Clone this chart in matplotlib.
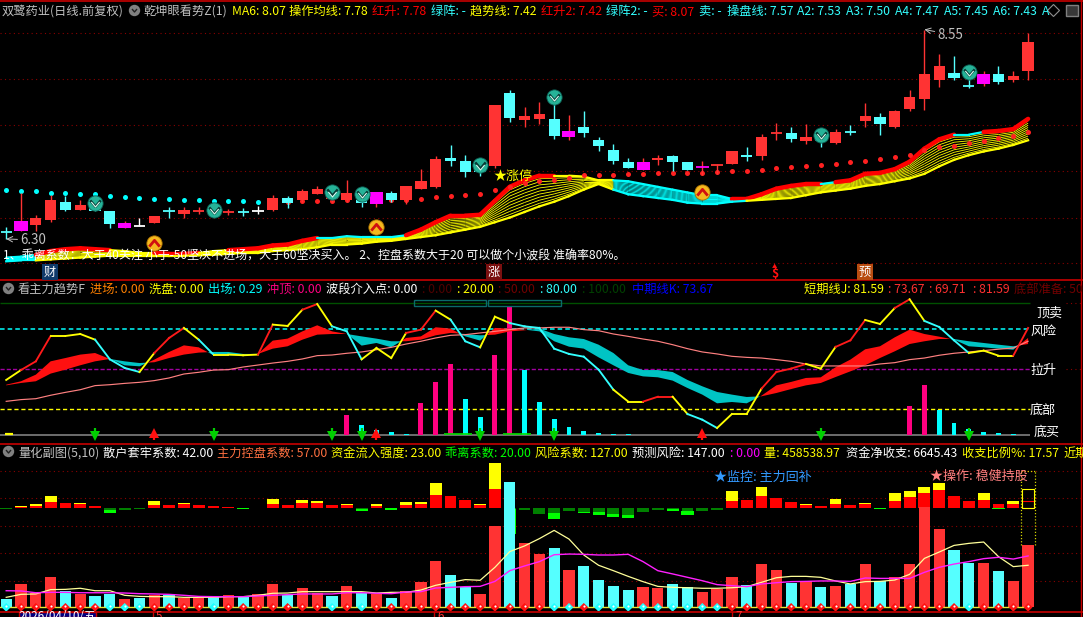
import numpy as np
import matplotlib
matplotlib.use('Agg')
import matplotlib.pyplot as plt
from matplotlib.collections import LineCollection
from matplotlib.patches import Rectangle
from matplotlib.path import Path

plt.rcParams['font.family'] = ['Noto Sans CJK SC', 'DejaVu Sans']

W, H = 1083, 617

# candles
c_open = [6.37,6.39,6.45,6.50,6.70,6.61,6.64,6.60,6.42,6.44,6.47,6.60,6.57,6.60,6.61,6.59,6.59,6.60,6.61,6.74,
          6.72,6.78,6.73,6.72,6.72,6.68,6.79,6.72,6.84,6.86,7.17,7.14,7.11,7.08,7.87,7.58,7.59,7.59,7.40,7.50,
          7.36,7.26,7.13,7.04,7.15,7.19,7.13,7.07,7.09,7.11,7.20,7.19,7.44,7.44,7.35,7.42,7.33,7.45,7.57,7.61,
          7.50,7.70,7.80,8.01,8.08,7.94,7.96,8.07,8.01,8.10]
c_close = [6.37,6.49,6.52,6.72,6.61,6.66,6.60,6.46,6.47,6.44,6.55,6.60,6.61,6.60,6.61,6.59,6.59,6.60,6.74,6.69,
           6.82,6.84,6.76,6.79,6.69,6.80,6.72,6.87,6.92,7.16,7.14,7.02,7.02,7.74,7.60,7.62,7.64,7.41,7.46,7.44,
           7.30,7.14,7.06,7.13,7.17,7.13,7.04,7.07,7.09,7.25,7.18,7.40,7.44,7.37,7.40,7.35,7.45,7.45,7.62,7.53,
           7.67,7.82,8.07,8.16,8.03,7.94,8.07,7.99,8.05,8.42]
c_high = [6.43,6.79,6.56,6.77,6.76,6.72,6.76,6.60,6.49,6.52,6.55,6.64,6.64,6.64,6.66,6.62,6.63,6.65,6.77,6.76,
          6.84,6.87,6.83,6.93,6.81,6.80,6.82,6.87,7.05,7.19,7.31,7.20,7.15,7.74,7.90,7.72,7.77,7.76,7.63,7.67,
          7.40,7.32,7.17,7.17,7.20,7.20,7.13,7.14,7.11,7.25,7.29,7.43,7.55,7.50,7.54,7.42,7.48,7.52,7.76,7.65,
          7.69,7.90,8.55,8.29,8.27,8.13,8.10,8.16,8.10,8.51]
c_low = [6.30,6.39,6.39,6.48,6.60,6.61,6.60,6.42,6.42,6.44,6.47,6.52,6.53,6.57,6.58,6.56,6.55,6.57,6.60,6.63,
         6.70,6.78,6.70,6.70,6.64,6.64,6.70,6.68,6.84,6.85,7.08,6.97,6.98,7.06,7.56,7.50,7.54,7.37,7.36,7.40,
         7.25,7.11,7.06,7.04,7.09,7.03,7.04,6.99,7.00,7.11,7.14,7.15,7.36,7.34,7.32,7.29,7.32,7.42,7.50,7.42,
         7.49,7.67,7.69,7.93,8.01,7.92,7.94,7.96,7.99,8.01]
c_kind = ['c','m','r','r','c','r','c','c','m','w','r','c','r','r','c','r','c','w','r','c',
          'r','r','r','r','c','m','c','r','r','r','c','c','c','r','c','r','r','c','m','c',
          'c','c','c','m','r','c','c','m','r','r','c','r','r','c','r','c','r','c','r','c',
          'r','r','r','r','c','c','m','c','r','r']

# ma ribbon edges
ma_top = [6.10,6.11,6.13,6.17,6.19,6.20,6.19,6.18,6.17,6.15,6.15,6.14,6.14,6.15,6.17,6.18,6.19,6.20,6.23,6.24,
          6.28,6.31,6.31,6.33,6.32,6.32,6.32,6.34,6.40,6.48,6.55,6.55,6.56,6.71,6.86,6.93,6.98,6.98,6.98,6.97,
          6.93,6.93,6.92,6.89,6.86,6.83,6.80,6.77,6.77,6.73,6.73,6.78,6.84,6.87,6.89,6.89,6.91,6.93,7.00,7.01,
          7.05,7.13,7.27,7.37,7.42,7.42,7.45,7.46,7.48,7.59]
ma_bot = [6.06,6.07,6.07,6.08,6.09,6.10,6.11,6.12,6.12,6.12,6.12,6.12,6.12,6.125,6.13,6.14,6.15,6.15,6.17,6.18,
          6.19,6.21,6.24,6.24,6.25,6.27,6.28,6.30,6.32,6.34,6.37,6.40,6.43,6.48,6.53,6.59,6.65,6.70,6.76,6.83,
          6.89,6.83,6.78,6.76,6.74,6.72,6.69,6.68,6.68,6.70,6.71,6.72,6.73,6.74,6.77,6.80,6.82,6.84,6.87,6.89,
          6.92,6.95,7.00,7.08,7.15,7.20,7.24,7.27,7.31,7.36]
top_col = 'cc' + 'rrrrr' + 'yyy' + 'rrr' + 'yy' + 'rrrrrr' + 'cccccc' + 'r' * 10 + 'yyyy' + 'c' * 8 + 'r' * 6 + 'c' + 'r' * 8 + 'cc' + 'rrr'
band_col = 'cc' + 'y' * 39 + 'c' * 9 + 'y' * 19

# stop dots, cyan first and then red
dots_up = [6.83,6.82,6.81,6.79,6.79,6.78,6.78,6.76,6.75,6.74,6.73,6.73,6.72,6.72,6.71,6.71,6.71,6.70]
dots_dn = [6.70,6.70,6.71,6.71,6.71,6.72,6.72,6.72,6.72,6.72,6.73,6.75,6.76,6.77,6.78,6.83,6.86,6.90,6.92,6.93,
           6.96,6.99,6.99,6.99,7.00,7.00,7.01,7.01,7.01,7.01,7.02,7.03,7.03,7.04,7.06,7.07,7.08,7.09,7.11,7.13,
           7.14,7.16,7.18,7.20,7.26,7.29,7.30,7.33,7.35,7.38,7.41,7.45]

sell_idx = [6, 14, 22, 24, 32, 37, 55, 65]
sell_px = [6.69, 6.61, 6.80, 6.78, 7.09, 7.83, 7.42, 8.09]
buy_idx = [10, 25, 47]
buy_px = [6.26, 6.43, 6.80]

grid_main = [8.51, 8.015, 7.52, 7.03, 6.53, 6.04]

# trend panel
line_j = [41.7,49.2,55.8,75.0,75.0,76.5,72.2,57.3,50.8,47.7,62.1,73.5,81.1,72.2,60.9,60.9,60.4,60.9,83.6,82.6,
          94.9,99.2,82.3,78.5,57.3,65.9,58.3,77.3,79.8,94.2,87.4,71.0,66.4,89.6,84.8,82.3,81.1,65.4,61.4,59.3,
          49.5,34.3,25.3,25.3,29.0,29.0,15.9,11.6,5.3,15.9,15.9,35.1,47.7,50.3,53.8,50.3,66.7,71.7,87.1,84.1,
          96.2,102.8,86.4,81.8,71.7,62.1,63.9,60.1,60.1,81.1]
j_col = 'yrryyyccc' + 'yrrycyyyr' + 'yyryccyyy' + 'rryccyycc' + 'cccccyyrr' + 'yccyyyrrr' + 'yyrryyryc' + 'ccyyyr'
line_k = [38.1,40.7,45.7,55.8,58.3,60.9,62.1,57.6,52.8,52.0,57.1,62.9,67.9,66.4,60.4,60.4,60.4,61.4,71.5,73.0,
          78.5,83.1,78.5,76.5,67.7,69.7,66.4,73.5,74.7,81.6,80.6,74.7,71.5,81.1,80.6,79.8,78.5,71.0,66.9,65.4,
          58.8,52.8,47.0,44.4,43.7,41.2,35.6,30.6,24.0,25.0,24.0,29.8,37.6,40.2,43.2,43.7,51.3,57.1,64.9,67.2,
          74.0,79.8,76.5,74.5,72.2,67.2,66.4,65.4,64.6,73.5]
line_d = [37.6,39.4,40.7,46.5,49.5,52.8,55.8,57.6,55.8,54.5,55.1,58.3,60.9,62.4,62.9,62.9,61.4,61.4,65.4,67.2,
          72.2,76.0,76.5,76.5,74.7,73.0,71.0,71.0,72.2,75.5,77.3,76.5,75.5,76.0,78.5,79.3,80.6,76.5,74.0,72.7,
          68.4,62.1,52.8,49.2,49.2,47.7,41.7,36.9,32.6,30.6,28.8,29.3,31.8,34.8,37.6,39.4,43.9,48.2,52.8,58.3,
          63.4,68.9,71.0,72.7,72.7,71.0,69.7,68.4,67.2,68.9]
line_long = [25.5,26.8,27.5,30.1,32.3,34.3,37.4,38.1,39.1,39.9,41.2,43.2,46.2,47.5,49.2,49.5,51.5,53.0,54.5,55.8,
             57.6,60.1,60.6,61.9,62.9,64.6,66.4,68.9,71.0,73.5,75.5,76.0,77.3,78.5,79.8,81.1,81.1,81.6,81.6,79.8,
             79.0,76.5,74.7,72.7,71.0,68.4,65.4,62.9,61.4,59.6,58.8,58.3,57.1,55.8,53.8,52.3,52.3,52.3,52.3,53.8,
             54.8,57.1,58.3,60.4,61.9,62.9,63.9,65.0,65.9,71.0]
sig_idx = [23,24,25,26,27,28,29,30,31,32,33,34,35,36,37,38,39,40,41,42,61,62,63,64,65,66,67,68,69]
sig_val = [15.2,7.6,3.8,2.3,0.8,24.2,40.2,53.8,27.3,13.6,60.6,97.7,49.2,25.0,12.1,6.1,3.0,1.5,0.8,0.8,22.0,37.9,18.9,9.1,4.5,2.3,1.5,0.8,0.3]
sig_col = ['p','c','c','c','c','p','p','p','c','c','p','p','c','c','c','c','c','c','c','c','p','p','c','c','c','c','c','c','c']
red_arrow_idx = [10, 25, 47]
green_arrow_idx = [6, 14, 22, 24, 32, 37, 55, 65]

# volume panel, thousands
vol = [62,173,108,224,118,99,84,99,62,69,91,91,69,71,76,91,76,99,173,91,
       143,106,84,158,106,99,69,121,187,343,239,150,99,601,927,476,394,439,276,306,
       202,158,128,150,143,173,150,113,136,224,165,320,276,180,195,150,158,170,320,192,
       224,320,744,579,424,328,328,269,195,459]
vol_kind = ['c','r','r','r','c','r','c','c','r','c','r','c','r','r','c','r','c','r','r','c',
            'r','r','c','r','c','r','c','r','r','r','c','c','r','r','c','r','r','c','r','c',
            'c','c','c','r','r','c','c','r','r','r','c','r','r','c','r','c','r','c','r','c',
            'r','r','r','r','c','c','r','c','r','r']
vol_ma5 = [74,96,99,131,133,141,123,123,89,81,79,79,74,74,74,79,79,89,104,106,
           116,116,116,116,116,106,111,111,128,163,185,205,200,296,412,454,508,569,505,387,
           311,271,229,190,155,148,145,141,141,145,153,185,219,229,229,222,195,173,190,192,
           202,244,362,409,458,473,483,375,301,311]
vol_ma10 = [123,121,108,111,111,108,108,108,106,101,99,96,89,81,79,79,79,84,89,94,
            99,99,99,108,108,104,101,113,116,143,148,153,155,192,271,306,338,389,394,392,
            387,387,392,338,271,247,222,197,168,160,153,173,182,190,192,195,195,192,217,214,
            214,214,259,296,320,338,360,370,357,380]
diamond_cyan = [0,7,8,9,14,22,24,37,38,40,41,42,43,44,45,46,47,48,65]

# money flow bars, stacked above and below the zero line
flow_red = [0,3,7,18,15,12,6,0,0,0,9,9,12,9,6,3,0,0,12,9,
            15,15,9,9,0,6,0,9,12,39,36,24,9,57,0,0,0,0,0,0,
            0,0,0,0,0,0,0,0,0,21,24,36,30,18,9,6,12,9,12,0,
            21,33,45,54,36,21,24,12,12,21]
flow_yel = [0,3,5,18,0,3,0,0,0,0,12,0,3,0,0,0,0,0,15,0,
            9,6,0,3,0,6,0,9,6,36,0,0,3,78,0,0,0,0,0,0,
            0,0,0,0,0,0,0,0,0,30,0,27,0,0,3,0,15,0,3,0,
            24,18,18,21,0,0,21,0,9,35]
flow_dk = [3,0,0,0,0,0,0,6,6,3,0,0,0,0,0,0,1,1,0,0,
           0,0,0,0,3,0,1,0,0,0,0,0,0,0,3,6,18,15,9,12,
           12,18,21,12,6,3,9,9,6,0,0,0,0,0,0,0,0,0,0,1,
           0,0,0,0,0,0,0,0,0,0]
flow_br = [0,0,0,0,0,0,0,9,0,0,0,0,0,0,0,0,3,0,0,0,
           0,0,0,0,6,0,5,0,0,0,0,0,0,0,75,0,0,18,0,3,
           9,9,9,0,0,6,12,0,0,0,0,0,0,0,0,0,0,0,0,2,
           0,0,0,0,0,0,0,2,0,0]

RED = '#ff3333'
CYAN = '#55ffff'
GRID = '#8a0000'
GREY = '#c0c0c0'


def px_x(px):
    return (px - 6.2) / 14.81


def make_axes(fig, y_top, y_bot, v_top, v_bot):
    ax = fig.add_axes([0, 1 - y_bot / H, 1, (y_bot - y_top) / H])
    ax.set_xlim(px_x(0), px_x(W))
    ax.set_ylim(v_bot, v_top)
    ax.set_axis_off()
    return ax


def put(fig, x, y, s, color, size=8.8, **kw):
    # baseline placement, so that rows with and without CJK glyphs stay level
    fig.text(x / W, 1 - (y + size * 0.55) / H, s, color=color, fontsize=size, ha='left', va='baseline', **kw)


def chevron(up):
    if up:
        return Path([(-1, -0.6), (0, 0.6), (1, -0.6)], [Path.MOVETO, Path.LINETO, Path.LINETO])
    return Path([(-1, 0.6), (0, -0.6), (1, 0.6)], [Path.MOVETO, Path.LINETO, Path.LINETO])


def draw_main(ax):
    x = np.arange(len(c_open))
    for g in grid_main:
        ax.axhline(g, color=GRID, lw=0.8, ls=(0, (1, 3)), zorder=1)

    top = np.array(ma_top)
    bot = np.array(ma_bot)
    # the ribbon is a fan of averages, the strands are a texture between the two read edges
    seg_y, seg_c = [], []
    fan = {'y': '#ffff00', 'c': '#00ffff'}
    for w in np.linspace(0, 1, 11):
        level = top * (1 - w) + bot * w
        for i in range(len(x) - 1):
            seg_y.append([(x[i], level[i]), (x[i + 1], level[i + 1])])
            seg_c.append(fan[band_col[i]])
    ax.add_collection(LineCollection(seg_y, colors=seg_c, linewidths=0.6, zorder=2))

    for i in range(len(x) - 1):
        c = top_col[i]
        col = {'r': '#ff0000', 'y': '#ffff00', 'c': '#00ffff'}[c]
        ax.plot(x[i:i + 2], top[i:i + 2], color=col, lw=3.2 if c == 'r' else 1.6, zorder=3,
                solid_capstyle='round')
    # lowest strand runs solid along the bottom of the ribbon
    for i in range(len(x) - 1):
        ax.plot(x[i:i + 2], bot[i:i + 2], color=fan[band_col[i]], lw=1.6, zorder=3)

    ax.scatter(x[:len(dots_up)], dots_up, s=13, color='#00ffff', zorder=4, linewidths=0)
    ax.scatter(x[len(dots_up):], dots_dn, s=13, color='#ff2020', zorder=4, linewidths=0)

    body_col = {'r': RED, 'c': CYAN, 'm': '#ff00ff', 'w': '#ffffff'}
    wick_col = {'r': RED, 'c': CYAN, 'm': RED, 'w': '#ffffff'}
    for i in x:
        k = c_kind[i]
        ax.vlines(i, c_low[i], c_high[i], color=wick_col[k], lw=1.0, zorder=5)
        lo, hi = min(c_open[i], c_close[i]), max(c_open[i], c_close[i])
        width = 0.88 if k == 'm' else 0.76
        if hi - lo < 0.005:
            ax.hlines(lo, i - width / 2, i + width / 2, color=body_col[k], lw=1.3, zorder=6)
        else:
            ax.bar(i, hi - lo, bottom=lo, width=width, color=body_col[k], linewidth=0, zorder=6)

    ax.plot(sell_idx, sell_px, 'o', ms=11, color='#26b398', mec='#0c5a50', mew=0.6, zorder=8)
    ax.plot(sell_idx, sell_px, ls='', marker=chevron(False), ms=7.5, mfc='none', mec='#063a34', mew=1.8, zorder=9)
    ax.plot(sell_idx, [p - 0.012 for p in sell_px], ls='', marker=chevron(False), ms=6, mfc='none', mec='#d8fff4', mew=0.8, zorder=9)
    ax.plot(buy_idx, buy_px, 'o', ms=11, color='#f5b81e', mec='#a87000', mew=0.6, zorder=8)
    ax.plot(buy_idx, buy_px, ls='', marker=chevron(True), ms=7.5, mfc='none', mec='#d01010', mew=2.0, zorder=9)

    hi_i = int(np.argmax(c_high))
    lo_i = int(np.argmin(c_low))
    ax.annotate(f'{c_high[hi_i]:.2f}', xy=(hi_i, c_high[hi_i]), xytext=(13, -5), textcoords='offset pixels',
                color=GREY, fontsize=9.6, va='center', zorder=10,
                arrowprops=dict(arrowstyle='->', color=GREY, lw=0.7, shrinkA=0, shrinkB=0))
    ax.annotate(f'{c_low[lo_i]:.2f}', xy=(lo_i, c_low[lo_i]), xytext=(14, -1), textcoords='offset pixels',
                color=GREY, fontsize=9.6, va='center', zorder=10,
                arrowprops=dict(arrowstyle='->', color=GREY, lw=0.7, shrinkA=0, shrinkB=0))


def draw_trend(ax):
    x = np.arange(len(line_j))
    end = px_x(1030)
    ax.hlines(100, x[0] - 0.4, end, color='#005000', lw=1.0)
    ax.hlines(80, x[0] - 0.4, end, color='#00ffff', lw=1.1, ls=(0, (3, 2)))
    ax.hlines(50, x[0] - 0.4, end, color='#a000a0', lw=1.0, ls=(0, (3, 1.5)))
    ax.hlines(20, x[0] - 0.4, end, color='#ffff00', lw=1.0, ls=(0, (3, 2)))
    ax.hlines(0, x[0] - 0.4, end, color='#808080', lw=1.2)
    ax.hlines(100, end + 2.4, px_x(W), color=GRID, lw=0.8, ls=(0, (1, 3)))
    ax.hlines(50, end + 2.4, px_x(W), color=GRID, lw=0.8, ls=(0, (1, 3)))

    for i, v, c in zip(sig_idx, sig_val, sig_col):
        ax.bar(i, v, width=0.33, color='#ff0080' if c == 'p' else '#00ffff', linewidth=0, zorder=2)

    k = np.array(line_k)
    d = np.array(line_d)
    ax.fill_between(x, k, d, where=k >= d, interpolate=True, color='#ff1010', linewidth=0, zorder=3)
    ax.fill_between(x, k, d, where=k <= d, interpolate=True, color='#00c4c4', linewidth=0, zorder=3)
    ax.plot(x, line_long, color='#ff8080', lw=0.85, zorder=4)

    cols = {'r': '#ff1a1a', 'y': '#ffff00', 'c': '#33ffff'}
    for i in range(len(x) - 1):
        ax.plot(x[i:i + 2], line_j[i:i + 2], color=cols[j_col[i]], lw=1.35, zorder=5)

    ax.hlines(0.8, 30 - 0.45, 31 + 0.45, color='#00e000', lw=1.2, zorder=5)
    ax.hlines(0.8, 34 - 0.45, 35 + 0.45, color='#00e000', lw=1.2, zorder=5)
    ax.hlines(0.5, x[0] - 0.1, x[0] + 0.45, color='#ffff00', lw=1.6, zorder=5)

    ax.vlines(green_arrow_idx, -1, 5, color='#00d000', lw=1.6, zorder=6)
    ax.plot(green_arrow_idx, [-0.8] * len(green_arrow_idx), 'v', ms=7.5, color='#00d000', mew=0, zorder=6)
    ax.vlines(red_arrow_idx, -4, 2, color='#ff1010', lw=1.6, zorder=6)
    ax.plot(red_arrow_idx, [1.6] * len(red_arrow_idx), '^', ms=7, color='#ff1010', mew=0, zorder=6)


def draw_volume(ax, ax2):
    x = np.arange(len(vol))
    red = np.array(flow_red)
    yel = np.array(flow_yel)
    dk = np.array(flow_dk)
    br = np.array(flow_br)
    # flow axis sits underneath, the dotted grid goes with it
    for g in [471, 498, 526, 553, 581]:
        ax2.axhline((508 - g) * 3, color=GRID, lw=0.8, ls=(0, (1, 3)), zorder=1)

    ax2.bar(x[:-1], red[:-1], width=0.8, color='#ff0000', linewidth=0, zorder=2)
    ax2.bar(x[:-1], yel[:-1], bottom=red[:-1], width=0.8, color='#ffff00', linewidth=0, zorder=2)
    ax2.bar(x, -dk, width=0.8, color='#008000', linewidth=0, zorder=2)
    ax2.bar(x, -br, bottom=-dk, width=0.82, color='#00ff00', linewidth=0, zorder=2)
    # last day is only outlined, the cursor box sits around it
    ax2.bar(x[-1], red[-1], width=0.8, facecolor='none', edgecolor='#ff0000', linewidth=0.8, zorder=2)
    ax2.bar(x[-1], red[-1] + yel[-1], width=0.8, facecolor='none', edgecolor='#ffff00', linewidth=0.8, zorder=2)

    for i in x:
        ax.bar(i, vol[i], width=0.76, color=RED if vol_kind[i] == 'r' else CYAN, linewidth=0, zorder=3)
    ax.plot(x, vol_ma5, color='#ffff99', lw=0.9, zorder=4)
    ax.plot(x, vol_ma10, color='#ff20ff', lw=1.0, zorder=5)
    ax.axhline(0, xmax=1030 / W, color='#e8e830', lw=1.0, zorder=5)

    dc = ['#20ffff' if i in diamond_cyan else '#ff1010' for i in x]
    ax.scatter(x, [0] * len(x), marker='D', s=20, c=dc, linewidths=0, zorder=6)
    ax.scatter(x, [8] * len(x), marker='o', s=2.5, color='#ffffff', linewidths=0, zorder=7)

    ax.vlines([x[-1] - 0.45, x[-1] + 0.47], vol[-1], 1010, color='#d0d000', lw=0.9, ls=(0, (1, 1.5)), zorder=7)
    ax.hlines(1010, x[-1] - 0.45, x[-1] + 0.47, color='#d0d000', lw=0.9, ls=(0, (1, 1.5)), zorder=7)


def frame_and_text(fig):
    for y in [0.8, 279.5, 443.5, 611.5]:
        fig.add_artist(plt.Line2D([0, 1], [1 - y / H] * 2, color='#c80000', lw=1.2))
    fig.add_artist(plt.Line2D([1081 / W] * 2, [0, 1], color='#c80000', lw=1.0))

    put(fig, 2, 10, '双鹭药业(日线.前复权)', GREY)
    put(fig, 143, 10, '乾坤眼看势Z(1)', GREY)
    row1 = [(232, 'MA6: 8.07', '#ffff00'), (289, '操作均线: 7.78', '#ffff00'), (372, '红升: 7.78', '#ff0000'),
            (431, '绿阵: -', '#33ffff'), (470, '趋势线: 7.42', '#ffff00'), (541, '红升2: 7.42', '#ff0000'),
            (606, '绿阵2: -', '#33ffff'), (652, '买: 8.07', '#ff0000'), (699, '卖: -', '#33ffff'),
            (727, '操盘线: 7.57', '#33ffff'), (797, 'A2: 7.53', '#33ffff'), (846, 'A3: 7.50', '#33ffff'),
            (895, 'A4: 7.47', '#33ffff'), (944, 'A5: 7.45', '#33ffff'), (993, 'A6: 7.43', '#33ffff'),
            (1042, 'A', '#33ffff')]
    for x, s, c in row1:
        put(fig, x, 10, s, c)

    put(fig, 18, 288, '看主力趋势F', GREY)
    row2 = [(90, '进场: 0.00', '#ff8000'), (149, '洗盘: 0.00', '#ffff00'), (208, '出场: 0.29', '#00ffff'),
            (267, '冲顶: 0.00', '#ff0080'), (326, '波段介入点: 0.00', '#ffffff'), (422, ': 0.00', '#500000'),
            (457, ': 20.00', '#ffff00'), (498, ': 50.00', '#700000'), (540, ': 80.00', '#33ffff'),
            (582, ': 100.00', '#004000'), (632, '中期线K: 73.67', '#0000ff'), (804, '短期线J: 81.59', '#ffff00'),
            (888, ': 73.67', '#ff3030'), (929, ': 69.71', '#ff3030'), (973, ': 81.59', '#ff3030'),
            (1014, '底部准备: 50', '#700000')]
    for x, s, c in row2:
        put(fig, x, 288, s, c)

    put(fig, 18, 452, '量化副图(5,10)', GREY)
    row3 = [(103, '散户套牢系数: 42.00', '#ffffff'), (217, '主力控盘系数: 57.00', '#ff7040'),
            (331, '资金流入强度: 23.00', '#ffff00'), (445, '乖离系数: 20.00', '#00ff00'),
            (535, '风险系数: 127.00', '#ffff00'), (632, '预测风险: 147.00', '#ffffff'), (730, ': 0.00', '#ff00ff'),
            (764, '量: 458538.97', '#ffff00'), (846, '资金净收支: 6645.43', '#ffffff'),
            (962, '收支比例%: 17.57', '#ffff00'), (1063, '近期', '#ffff00')]
    for x, s, c in row3:
        put(fig, x, 452, s, c)

    put(fig, 3, 255, '1、乖离系数：大于40关注 小于-50坚决不进场，大于60坚决买入。 2、控盘系数大于20 可以做个小波段 准确率80%。',
        '#ffffff', size=8.65)
    put(fig, 494, 175, '★涨停', '#ffff00', size=9.4)
    put(fig, 714, 476, '★监控: 主力回补', '#3399ff', size=9.4)
    put(fig, 930, 475, '★操作: 稳健持股', '#ff8080', size=9.4)

    for x, y, s in [(1036, 311, '顶卖'), (1030, 330, '风险'), (1030, 369, '拉升'), (1030, 409, '底部'), (1034, 431, '底买')]:
        put(fig, x, y, s, '#ffffff', size=9.4)

    # event tags on the date axis of the main panel
    for x, s, bg in [(50, '财', '#103a6a'), (494, '涨', '#7a1010'), (865, '预', '#b84c10')]:
        fig.text(x / W, 1 - 272 / H, s, color='#ffffff', fontsize=8.8, ha='center', va='center',
                 bbox=dict(boxstyle='square,pad=0.12', fc=bg, ec='none'))
    fig.text(774.5 / W, 1 - 274 / H, '$', color='#ff1010', fontsize=8.8, ha='center', va='center', fontweight='bold')
    fig.text(774.5 / W, 1 - 267 / H, '▲', color='#ff1010', fontsize=3.8, ha='center', va='center')

    # small window icons
    for x, y in [(134, 10), (8, 288), (8, 451)]:
        fig.add_artist(plt.Line2D([x / W], [1 - y / H], marker='o', ms=8.2, color='#808080', mew=0))
        fig.add_artist(plt.Line2D([x / W], [1 - y / H], marker=chevron(False), ms=3.6, mfc='none', mec='#202020', mew=1.0))
    fig.add_artist(plt.Line2D([1053 / W], [1 - 10 / H], marker='D', ms=6.5, mfc='none', mec='#909090', mew=0.8))
    fig.add_artist(Rectangle((1066 / W, 1 - 16 / H), 12 / W, 11 / H, transform=fig.transFigure,
                             fc='#383838', ec='#808080', lw=1.0))

    # level boxes above the trend panel
    for x0, x1 in [(414, 486), (488, 561)]:
        fig.add_artist(Rectangle((x0 / W, 1 - 306 / H), (x1 - x0) / W, 6.5 / H, transform=fig.transFigure,
                                 fc='none', ec='#0a6a6a', lw=1.0))

    # date box and month ticks along the bottom
    fig.add_artist(Rectangle((19 / W, 0), 77 / W, 5 / H, transform=fig.transFigure, fc='#000080', ec='#c80000', lw=1.0))
    fig.text(57 / W, 1 - 617 / H, '2026/04/10/五', color='#ffffff', fontsize=8.4, ha='center', va='center')
    for x, s in [(156, '5'), (437, '6'), (735, '7')]:
        fig.add_artist(plt.Line2D([(x - 3) / W] * 2, [0, 5 / H], color='#c80000', lw=1.0))
        fig.text(x / W, 1 - 617 / H, s, color='#ff3030', fontsize=8.4, ha='left', va='center')


def main():
    fig = plt.figure(figsize=(W / 100, H / 100), dpi=100, facecolor='black')
    ax1 = make_axes(fig, 0, 279, 8.867, 5.87)
    ax2 = make_axes(fig, 280, 443, 117.4, -6.06)
    ax3 = make_axes(fig, 443, 611, 1215, -27)
    ax4 = make_axes(fig, 443, 611, 195, -309)
    ax3.set_zorder(2)
    ax4.set_zorder(1)
    draw_main(ax1)
    draw_trend(ax2)
    draw_volume(ax3, ax4)
    frame_and_text(fig)
    fig.savefig('out.png', dpi=100, facecolor='black')


main()
